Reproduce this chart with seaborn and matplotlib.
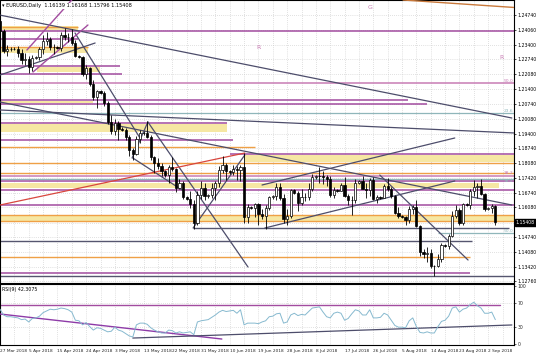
import matplotlib
matplotlib.use("Agg")
import matplotlib.pyplot as plt
import matplotlib.transforms as mtransforms
import seaborn as sns
import pandas as pd
import numpy as np

# ---- data (EURUSD daily, 27 Mar - 4 Sep 2018) ----
opens = [1.2446, 1.2402, 1.2310, 1.2320, 1.2322, 1.2320, 1.2302, 1.2270, 1.2277, 1.2238,
         1.2282, 1.2285, 1.2320, 1.2357, 1.2367, 1.2328, 1.2330, 1.2325, 1.2382, 1.2375,
         1.2373, 1.2350, 1.2288, 1.2285, 1.2210, 1.2235, 1.2163, 1.2103, 1.2130, 1.2125,
         1.2078, 1.1992, 1.1952, 1.1990, 1.1962, 1.1955, 1.1925, 1.1865, 1.1850, 1.1917,
         1.1942, 1.1945, 1.1925, 1.1835, 1.1810, 1.1795, 1.1770, 1.1755, 1.1790, 1.1780,
         1.1697, 1.1720, 1.1655, 1.1645, 1.1625, 1.1540, 1.1665, 1.1695, 1.1660, 1.1662,
         1.1695, 1.1720, 1.1775, 1.1800, 1.1770, 1.1768, 1.1780, 1.1775, 1.1790, 1.1565,
         1.1610, 1.1605, 1.1625, 1.1580, 1.1570, 1.1605, 1.1655, 1.1658, 1.1700, 1.1650,
         1.1555, 1.1570, 1.1685, 1.1675, 1.1630, 1.1655, 1.1655, 1.1690, 1.1745, 1.1750,
         1.1750, 1.1745, 1.1735, 1.1665, 1.1685, 1.1683, 1.1710, 1.1660, 1.1640, 1.1640,
         1.1720, 1.1728, 1.1690, 1.1685, 1.1730, 1.1645, 1.1655, 1.1652, 1.1705, 1.1690,
         1.1660, 1.1585, 1.1570, 1.1565, 1.1550, 1.1600, 1.1610, 1.1525, 1.1410, 1.1400,
         1.1405, 1.1345, 1.1345, 1.1375, 1.1440, 1.1435, 1.1480, 1.1570, 1.1595, 1.1540,
         1.1625, 1.1620, 1.1680, 1.1700, 1.1705, 1.1670, 1.1600, 1.1605, 1.1614]
closes = [1.2402, 1.2310, 1.2320, 1.2322, 1.2320, 1.2302, 1.2270, 1.2277, 1.2238, 1.2282,
          1.2285, 1.2320, 1.2357, 1.2367, 1.2328, 1.2330, 1.2325, 1.2382, 1.2375, 1.2373,
          1.2350, 1.2288, 1.2285, 1.2210, 1.2235, 1.2163, 1.2103, 1.2130, 1.2125, 1.2078,
          1.1992, 1.1952, 1.1990, 1.1962, 1.1955, 1.1925, 1.1865, 1.1850, 1.1917, 1.1942,
          1.1945, 1.1925, 1.1835, 1.1810, 1.1795, 1.1770, 1.1755, 1.1790, 1.1780, 1.1697,
          1.1720, 1.1655, 1.1645, 1.1625, 1.1540, 1.1665, 1.1695, 1.1660, 1.1662, 1.1695,
          1.1720, 1.1775, 1.1800, 1.1770, 1.1768, 1.1780, 1.1775, 1.1790, 1.1565, 1.1610,
          1.1605, 1.1625, 1.1580, 1.1570, 1.1605, 1.1655, 1.1658, 1.1700, 1.1650, 1.1555,
          1.1570, 1.1685, 1.1675, 1.1630, 1.1655, 1.1655, 1.1690, 1.1745, 1.1750, 1.1750,
          1.1745, 1.1735, 1.1665, 1.1685, 1.1683, 1.1710, 1.1660, 1.1640, 1.1640, 1.1720,
          1.1728, 1.1690, 1.1685, 1.1730, 1.1645, 1.1655, 1.1652, 1.1705, 1.1690, 1.1660,
          1.1585, 1.1570, 1.1565, 1.1550, 1.1600, 1.1610, 1.1525, 1.1410, 1.1400, 1.1405,
          1.1345, 1.1345, 1.1375, 1.1440, 1.1435, 1.1480, 1.1570, 1.1595, 1.1540, 1.1625,
          1.1620, 1.1680, 1.1700, 1.1705, 1.1670, 1.1600, 1.1605, 1.1614, 1.1541]
highs = [1.2476, 1.2412, 1.2340, 1.2330, 1.2328, 1.2335, 1.2320, 1.2305, 1.2290, 1.2292,
         1.2290, 1.2330, 1.2385, 1.2396, 1.2375, 1.2345, 1.2336, 1.2396, 1.2414, 1.2394,
         1.2412, 1.2360, 1.2294, 1.2290, 1.2250, 1.2240, 1.2180, 1.2138, 1.2135, 1.2130,
         1.2085, 1.2025, 1.2008, 1.1995, 1.1968, 1.1965, 1.1935, 1.1875, 1.1930, 1.1955,
         1.1950, 1.1997, 1.1935, 1.1840, 1.1830, 1.1810, 1.1775, 1.1800, 1.1837, 1.1785,
         1.1735, 1.1725, 1.1660, 1.1680, 1.1640, 1.1680, 1.1725, 1.1720, 1.1668, 1.1720,
         1.1725, 1.1796, 1.1840, 1.1810, 1.1775, 1.1800, 1.1795, 1.1800, 1.1852, 1.1625,
         1.1615, 1.1630, 1.1630, 1.1600, 1.1620, 1.1660, 1.1662, 1.1720, 1.1720, 1.1670,
         1.1600, 1.1690, 1.1690, 1.1680, 1.1690, 1.1675, 1.1720, 1.1760, 1.1755, 1.1790,
         1.1770, 1.1755, 1.1750, 1.1700, 1.1690, 1.1720, 1.1745, 1.1670, 1.1660, 1.1735,
         1.1730, 1.1750, 1.1720, 1.1740, 1.1745, 1.1665, 1.1660, 1.1715, 1.1740, 1.1700,
         1.1665, 1.1610, 1.1575, 1.1570, 1.1615, 1.1620, 1.1640, 1.1530, 1.1420, 1.1430,
         1.1420, 1.1350, 1.1400, 1.1450, 1.1445, 1.1490, 1.1590, 1.1620, 1.1605, 1.1630,
         1.1630, 1.1690, 1.1730, 1.1720, 1.1735, 1.1675, 1.1610, 1.1625, 1.1617]
lows = [1.2395, 1.2305, 1.2290, 1.2310, 1.2315, 1.2287, 1.2255, 1.2250, 1.2215, 1.2223,
        1.2275, 1.2270, 1.2300, 1.2340, 1.2318, 1.2300, 1.2320, 1.2310, 1.2360, 1.2353,
        1.2340, 1.2285, 1.2280, 1.2200, 1.2185, 1.2155, 1.2093, 1.2055, 1.2120, 1.2065,
        1.1985, 1.1938, 1.1935, 1.1910, 1.1950, 1.1910, 1.1838, 1.1822, 1.1845, 1.1900,
        1.1935, 1.1920, 1.1821, 1.1763, 1.1780, 1.1750, 1.1745, 1.1717, 1.1770, 1.1676,
        1.1690, 1.1645, 1.1640, 1.1606, 1.1510, 1.1530, 1.1645, 1.1640, 1.1652, 1.1650,
        1.1640, 1.1700, 1.1765, 1.1730, 1.1760, 1.1755, 1.1730, 1.1725, 1.1540, 1.1540,
        1.1600, 1.1565, 1.1530, 1.1555, 1.1510, 1.1595, 1.1648, 1.1640, 1.1640, 1.1540,
        1.1527, 1.1560, 1.1670, 1.1590, 1.1620, 1.1635, 1.1640, 1.1680, 1.1738, 1.1720,
        1.1715, 1.1705, 1.1655, 1.1650, 1.1678, 1.1680, 1.1655, 1.1620, 1.1575, 1.1630,
        1.1715, 1.1690, 1.1650, 1.1660, 1.1640, 1.1630, 1.1645, 1.1650, 1.1680, 1.1650,
        1.1580, 1.1560, 1.1560, 1.1530, 1.1540, 1.1580, 1.1520, 1.1390, 1.1380, 1.1365,
        1.1335, 1.1301, 1.1340, 1.1365, 1.1430, 1.1420, 1.1475, 1.1560, 1.1530, 1.1530,
        1.1615, 1.1600, 1.1660, 1.1650, 1.1665, 1.1590, 1.1595, 1.1585, 1.1530]
rsi = [60, 50, 47, 47, 46, 45, 42, 43, 38, 44, 45, 48, 54, 57, 60, 59, 60, 62, 61, 59,
       55, 41, 40, 33, 37, 30, 24, 28, 27, 24, 21, 22, 29, 24, 22, 18, 14, 12, 33, 36,
       36, 34, 28, 24, 21, 19, 19, 24, 23, 19, 21, 19, 20, 21, 16, 38, 40, 41, 42, 46,
       50, 55, 58, 56, 57, 58, 53, 59, 33, 36, 36, 36, 35, 38, 40, 47, 48, 52, 53, 36,
       38, 50, 53, 49, 51, 50, 56, 62, 63, 64, 55, 47, 45, 53, 55, 53, 41, 44, 52, 59,
       57, 50, 50, 59, 45, 45, 46, 53, 50, 41, 32, 29, 29, 28, 40, 45, 30, 20, 19, 21,
       19, 19, 30, 39, 41, 48, 62, 64, 55, 60, 62, 68, 72, 66, 62, 53, 53, 55, 42]

date_labels = ["27 Mar 2018", "5 Apr 2018", "15 Apr 2018", "24 Apr 2018", "3 May 2018",
               "13 May 2018", "22 May 2018", "31 May 2018", "10 Jun 2018", "19 Jun 2018",
               "28 Jun 2018", "8 Jul 2018", "17 Jul 2018", "26 Jul 2018", "5 Aug 2018",
               "14 Aug 2018", "23 Aug 2018", "2 Sep 2018"]
price_ticks = [1.24740, 1.24060, 1.23400, 1.22740, 1.22080, 1.21400, 1.20740, 1.20080,
               1.19400, 1.18740, 1.18080, 1.17420, 1.16740, 1.16080, 1.15400, 1.14740,
               1.14080, 1.13420, 1.12760]
last_price = 1.15408
header = "EURUSD,Daily  1.16139 1.16168 1.15796 1.15408"
rsi_header = "RSI(9) 42.3075"

# analyst drawings: (price, first bar, last bar)
purple_levels = [(1.2402, 0, 144), (1.2366, 0, 21.7), (1.2245, 0, 33.4), (1.2209, 0, 34),
                 (1.2092, 0, 113.6), (1.2074, 0, 118.9), (1.1988, 0, 63.2), (1.1912, 0, 65),
                 (1.1849, 64, 144), (1.1727, 0, 144), (1.1687, 0, 144), (1.1619, 0, 144),
                 (1.1313, 0, 131)]
orange_levels = [(1.2420, 0.5, 21.7), (1.2330, 0, 24.5), (1.1880, 0, 71), (1.1808, 0, 144),
                 (1.1763, 0, 144), (1.1574, 0, 144), (1.1547, 0, 144), (1.1385, 0, 131)]
pink_levels = [(1.2168, 0, 144), (1.1750, 0, 144)]
teal_levels = [(1.2033, 0, 144), (1.1736, 0, 144), (1.1493, 122, 144)]
slate_levels = [(1.1516, 53.8, 141.8), (1.1457, 0, 131.5), (1.1300, 0, 144)]
# (top, bottom, first bar, last bar)
yellow_zones = [(1.2425, 1.2407, 0.5, 21.7), (1.2326, 1.2303, 0, 24.5), (1.2240, 1.2218, 10.3, 27.9),
                (1.2087, 1.2078, 0, 26), (1.1984, 1.1948, 0, 63.2), (1.1844, 1.1813, 68, 144),
                (1.1718, 1.1696, 0, 139), (1.1570, 1.1547, 0, 144)]
# (bar0, price0, bar1, price1)
dark_trends = [(0, 1.24735, 142.6, 1.20106), (0, 1.20466, 143.5, 1.19431),
               (0, 1.20826, 142.6, 1.16192), (20.9, 1.2393, 39, 1.19206),
               (0, 1.22041, 26.5, 1.2348), (41.2, 1.19926, 36.8, 1.18307),
               (37.0, 1.18307, 50.7, 1.16868), (41.2, 1.19926, 69.1, 1.13402),
               (53.8, 1.15158, 68.2, 1.18442), (73.8, 1.15158, 126.7, 1.17273),
               (73, 1.17092, 126.7, 1.19207), (105.8, 1.17541, 130.4, 1.13717)]
purple_trends = [(7.5, 1.23165, 20, 1.25415), (9.2, 1.22176, 24.5, 1.2429)]
red_trends = [(0, 1.16192, 68.2, 1.18531)]
brown_trends = [(112.3, 1.25415, 149.6, 1.2501)]
fib_labels = [("50.0", 1.2168, "pink", "bottom"), ("23.6", 1.2033, "teal", "bottom"),
              ("38.2", 1.1750, "pink", "bottom"), ("38.2", 1.1736, "teal", "top"),
              ("50.0", 1.1493, "teal", "bottom")]
letter_marks = [("G", 103, 1.2510), ("R", 71.9, 1.2326), ("R", 139.8, 1.2285)]
rsi_purple_level = (68, 0, 139.3)
rsi_trends_purple = [(0, 51.7, 61.8, 8.6)]
rsi_trends_dark = [(37, 10.3, 142.6, 32.8)]

colors = {"purple": "#a24c9f", "orange": "#efa046", "pink": "#c87cb4", "teal": "#8fb6ba",
          "slate": "#55556f", "yellow": "#f6e7a3", "red": "#d8473e", "brown": "#c9793b",
          "dark": "#4d4d6b", "grid": "#c4c4c4", "rsi": "#86b9cf"}

df = pd.DataFrame({"open": opens, "high": highs, "low": lows, "close": closes, "rsi": rsi})
df["bar"] = np.arange(len(df))

sns.set_style("white")
plt.rcParams["font.family"] = ["DejaVu Sans"]

W, H = 536, 357
fig = plt.figure(figsize=(W / 100, H / 100), dpi=100)
ax = fig.add_axes([0, 1 - 283 / H, 514 / W, 283 / H])
ax_r = fig.add_axes([0, 1 - 345 / H, 514 / W, 61 / H])

x_lo, x_hi = 0, 143.2
p_top, p_bot = 1.25415, 1.12683

for a in (ax, ax_r):
    a.set_xlim(x_lo, x_hi)
    a.set_facecolor("white")
    for s in a.spines.values():
        s.set_color("black")
        s.set_linewidth(0.8)
    for gx in range(0, 144, 4):
        a.axvline(gx, color=colors["grid"], lw=0.5, ls=(0, (1, 2)), zorder=0)

ax.set_ylim(p_bot, p_top)
for p in price_ticks:
    ax.axhline(p, color=colors["grid"], lw=0.5, ls=(0, (1, 2)), zorder=0)

# zones and levels
for top, bot, b0, b1 in yellow_zones:
    ax.fill_between([b0, b1], bot, top, color=colors["yellow"], lw=0, zorder=1)
for name, lst, lw in [("orange", orange_levels, 1.0), ("purple", purple_levels, 1.1),
                      ("pink", pink_levels, 1.1), ("teal", teal_levels, 0.9),
                      ("slate", slate_levels, 1.0)]:
    for p, b0, b1 in lst:
        ax.plot([b0, b1], [p, p], color=colors[name], lw=lw, zorder=2, solid_capstyle="butt")

for name, lst, lw in [("dark", dark_trends, 0.9), ("purple", purple_trends, 1.0),
                      ("red", red_trends, 0.9), ("brown", brown_trends, 1.0)]:
    for b0, p0, b1, p1 in lst:
        ax.plot([b0, b1], [p0, p1], color=colors[name], lw=lw, zorder=3)

# candles
up = df["close"] >= df["open"]
ax.vlines(df["bar"], df["low"], df["high"], color="black", lw=0.6, zorder=4)
body_lo = df[["open", "close"]].min(axis=1)
body_h = (df["close"] - df["open"]).abs().clip(lower=0.00012)
ax.bar(df["bar"][up], body_h[up], bottom=body_lo[up], width=0.62, color="white",
       edgecolor="black", lw=0.5, zorder=5)
ax.bar(df["bar"][~up], body_h[~up], bottom=body_lo[~up], width=0.62, color="black",
       edgecolor="black", lw=0.5, zorder=5)

# labels and texts
for txt, b, p in letter_marks:
    ax.text(b, p, txt, color=colors["pink"], fontsize=4.5, ha="center", va="center", zorder=6)
for txt, p, c, va in fib_labels:
    ax.text(142.9, p + (0.0002 if va == "bottom" else -0.0002), txt, color=colors[c],
            fontsize=3.2, ha="right", va=va, zorder=6)

ax.text(0.004, 1 - 6 / 283, "\u25be " + header, transform=ax.transAxes, fontsize=3.6,
        ha="left", va="center", color="black", zorder=7,
        bbox=dict(boxstyle="square,pad=0.15", fc="white", ec="none"))

ax.yaxis.tick_right()
ax.set_yticks(price_ticks)
ax.set_yticklabels([f"{p:.5f}" if abs(p - 1.154) > 1e-6 else "" for p in price_ticks])
ax.tick_params(axis="y", labelsize=3.3, length=1.5, width=0.5, pad=1, colors="black")
ax.set_xticks([])
trans = mtransforms.blended_transform_factory(ax.transAxes, ax.transData)
ax.text(1.003, last_price, f"{last_price:.5f}", transform=trans, fontsize=3.3, color="white",
        ha="left", va="center", bbox=dict(boxstyle="square,pad=0.2", fc="black", ec="black"),
        zorder=8, clip_on=False)

# RSI panel
ax_r.set_ylim(-1.7, 103.4)
for lv in (70, 30):
    ax_r.axhline(lv, color=colors["grid"], lw=0.5, ls=(0, (1, 2)), zorder=0)
v, b0, b1 = rsi_purple_level
ax_r.plot([b0, b1], [v, v], color=colors["purple"], lw=1.0, zorder=2)
for b0, v0, b1, v1 in rsi_trends_purple:
    ax_r.plot([b0, b1], [v0, v1], color="#8e3ba8", lw=1.0, zorder=3)
for b0, v0, b1, v1 in rsi_trends_dark:
    ax_r.plot([b0, b1], [v0, v1], color=colors["dark"], lw=0.9, zorder=3)
sns.lineplot(data=df, x="bar", y="rsi", ax=ax_r, color=colors["rsi"], lw=0.7, zorder=4)
ax_r.text(0.004, 1 - 6 / 61, rsi_header, transform=ax_r.transAxes, fontsize=3.4,
          ha="left", va="center", color="black")
ax_r.set_xlabel("")
ax_r.set_ylabel("")
ax_r.yaxis.tick_right()
ax_r.set_yticks([100, 70, 30, 0])
ax_r.set_yticklabels(["100", "70", "30", "0"])
ax_r.tick_params(axis="y", labelsize=3.3, length=1.5, width=0.5, pad=1)
ax_r.set_xticks(range(0, 8 * len(date_labels), 8))
ax_r.set_xticklabels(date_labels, ha="left")
ax_r.tick_params(axis="x", labelsize=3.1, length=1.5, width=0.5, pad=1.5)

fig.savefig("out.png", dpi=100, facecolor="white")
